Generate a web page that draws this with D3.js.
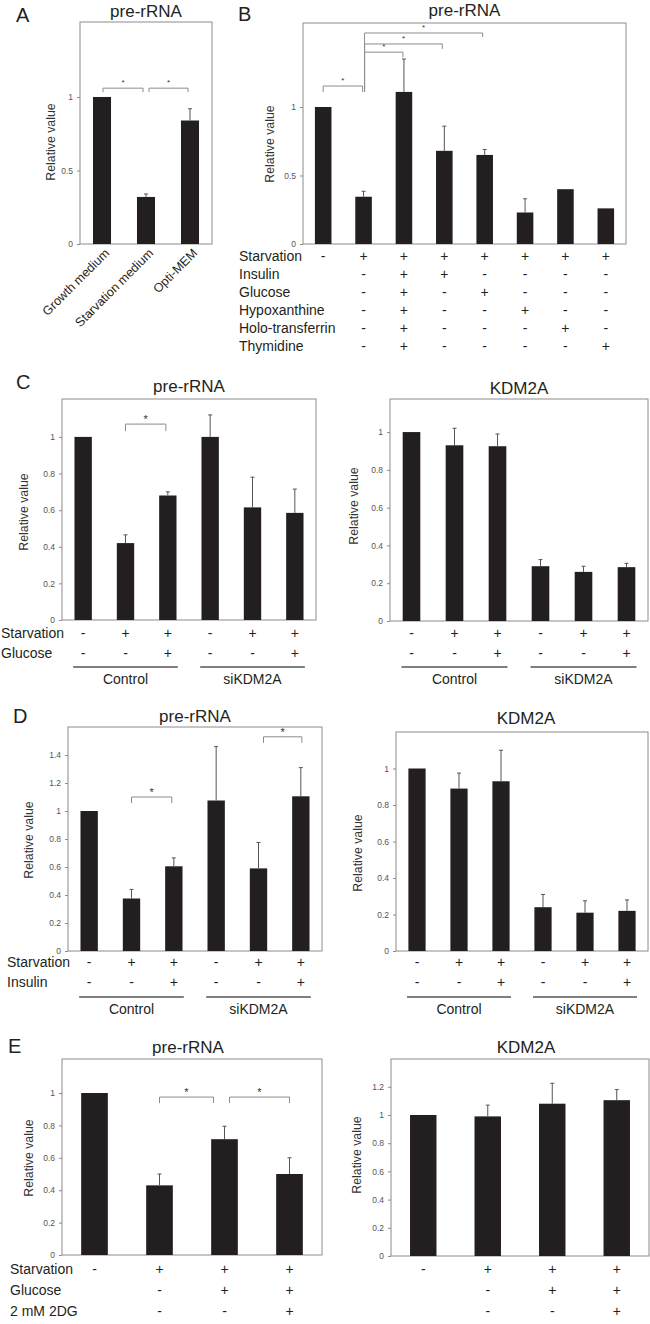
<!DOCTYPE html>
<html><head><meta charset="utf-8">
<script src="https://cdn.jsdelivr.net/npm/d3@7"></script>
<style>body{margin:0;background:#fff}svg{display:block}</style>
</head><body>
<script>
// ---------------- DATA ----------------
const aCategories = ["Growth medium", "Starvation medium", "Opti-MEM"];
const aValues = [1.0, 0.32, 0.84];
const aErrors = [0, 0.02, 0.08];
const aTicks = [0, 0.5, 1];
const aBrackets = [[0, 1, 1.06], [1, 2, 1.06]];

const bValues = [1.0, 0.345, 1.11, 0.68, 0.65, 0.23, 0.40, 0.26];
const bErrors = [0, 0.04, 0.24, 0.18, 0.04, 0.10, 0, 0];
const bTicks = [0, 0.5, 1];
const bRowLabels = ["Starvation", "Insulin", "Glucose", "Hypoxanthine", "Holo-transferrin", "Thymidine"];
const bStarvation = ["-", "+", "+", "+", "+", "+", "+", "+"];
const bInsulin = ["", "-", "+", "+", "-", "-", "-", "-"];
const bGlucose = ["", "-", "+", "-", "+", "-", "-", "-"];
const bHypoxanthine = ["", "-", "+", "-", "-", "+", "-", "-"];
const bHoloTransferrin = ["", "-", "+", "-", "-", "-", "+", "-"];
const bThymidine = ["", "-", "+", "-", "-", "-", "-", "+"];
const bBrackets = [[0, 1, 1.153], [1, 2, 1.40], [1, 3, 1.46], [1, 4, 1.54]];

const groupNames = ["Control", "siKDM2A"];

const cPreValues = [1.0, 0.42, 0.68, 1.0, 0.615, 0.585];
const cPreErrors = [0, 0.045, 0.02, 0.12, 0.165, 0.13];
const cKdmValues = [1.0, 0.93, 0.925, 0.29, 0.26, 0.285];
const cKdmErrors = [0, 0.09, 0.065, 0.035, 0.03, 0.02];
const cTicks = [0, 0.2, 0.4, 0.6, 0.8, 1];
const cRowLabels = ["Starvation", "Glucose"];
const cStarvation = ["-", "+", "+", "-", "+", "+"];
const cGlucose = ["-", "-", "+", "-", "-", "+"];
const cBrackets = [[1, 2, 1.07]];

const dPreValues = [1.0, 0.375, 0.605, 1.075, 0.59, 1.105];
const dPreErrors = [0, 0.065, 0.06, 0.385, 0.185, 0.205];
const dKdmValues = [1.0, 0.89, 0.93, 0.24, 0.21, 0.22];
const dKdmErrors = [0, 0.085, 0.17, 0.07, 0.065, 0.06];
const dPreTicks = [0, 0.2, 0.4, 0.6, 0.8, 1, 1.2, 1.4];
const dKdmTicks = [0, 0.2, 0.4, 0.6, 0.8, 1];
const dRowLabels = ["Starvation", "Insulin"];
const dStarvation = ["-", "+", "+", "-", "+", "+"];
const dInsulin = ["-", "-", "+", "-", "-", "+"];
const dBrackets = [[1, 2, 1.10], [4, 5, 1.53]];

const ePreValues = [1.0, 0.43, 0.715, 0.50];
const ePreErrors = [0, 0.07, 0.08, 0.10];
const eKdmValues = [1.0, 0.99, 1.08, 1.105];
const eKdmErrors = [0, 0.08, 0.145, 0.075];
const ePreTicks = [0, 0.2, 0.4, 0.6, 0.8, 1];
const eKdmTicks = [0, 0.2, 0.4, 0.6, 0.8, 1, 1.2];
const eRowLabels = ["Starvation", "Glucose", "2 mM 2DG"];
const eStarvation = ["-", "+", "+", "+"];
const eGlucose = ["", "-", "+", "+"];
const e2DG = ["", "-", "-", "+"];
const eBrackets = [[1, 2, 0.975], [2, 3, 0.975]];

// ---------------- DRAWING ----------------
const FONT = "'Liberation Sans', Arial, Helvetica, sans-serif";
const INK = "#231f20";
const svg = d3.select("body").append("svg").attr("width", 650).attr("height", 1324)
  .style("font-family", FONT);

function txt(x, y, s, size, opts = {}) {
  const t = svg.append("text").attr("x", x).attr("y", y).text(s)
    .attr("font-size", size).attr("fill", opts.fill || INK)
    .attr("text-anchor", opts.anchor || "start");
  if (opts.rotate !== undefined) t.attr("transform", `rotate(${opts.rotate},${x},${y})`);
  return t;
}

function panel(p) {
  const y = d3.scaleLinear().domain([0, p.yMax]).range([p.bottom, p.top]);
  const x = d3.scalePoint().domain(d3.range(p.values.length)).range([p.left, p.right]).padding(0.5);
  const bw = x.step() * 0.41;
  const g = svg.append("g");

  g.append("rect").attr("x", p.left).attr("y", p.top)
    .attr("width", p.right - p.left).attr("height", p.bottom - p.top)
    .attr("fill", "none").attr("stroke", "#8c8c8c").attr("stroke-width", 1);

  const ax = g.append("g").attr("transform", `translate(${p.left},0)`)
    .call(d3.axisLeft(y).tickValues(p.ticks).tickSize(3).tickPadding(4)
      .tickFormat(d => String(+d.toFixed(2))));
  ax.select(".domain").remove();
  ax.selectAll(".tick line").attr("stroke", "#8c8c8c");
  ax.selectAll(".tick text").attr("fill", "#555").attr("font-size", 8.5).attr("font-family", FONT);

  g.selectAll("rect.bar").data(p.values).join("rect").attr("class", "bar")
    .attr("x", (d, i) => x(i) - bw / 2).attr("y", d => y(d))
    .attr("width", bw).attr("height", d => y(0) - y(d)).attr("fill", INK);

  const eg = g.selectAll("g.err").data(p.values.map((v, i) => [v, p.errors[i], i]).filter(d => d[1] > 0))
    .join("g").attr("class", "err");
  eg.append("line").attr("x1", d => x(d[2])).attr("x2", d => x(d[2]))
    .attr("y1", d => y(d[0])).attr("y2", d => y(d[0] + d[1])).attr("stroke", "#555").attr("stroke-width", 1);
  eg.append("line").attr("x1", d => x(d[2]) - 2).attr("x2", d => x(d[2]) + 2)
    .attr("y1", d => y(d[0] + d[1])).attr("y2", d => y(d[0] + d[1])).attr("stroke", "#555").attr("stroke-width", 1);

  (p.brackets || []).forEach((b, k) => {
    const st = (p.bracketStyle && p.bracketStyle[k]) || {};
    const xl = x(b[0]) + (st.dl || 0), xr = x(b[1]) + (st.dr || 0);
    const yb = y(b[2]);
    const tick = st.tick || 6;
    const yl = st.leftTo !== undefined ? y(st.leftTo) : yb + tick;
    const yr = st.rightTo !== undefined ? y(st.rightTo) : yb + tick;
    g.append("path").attr("d", `M${xl},${yl}V${yb}H${xr}V${yr}`)
      .attr("fill", "none").attr("stroke", "#8c8c8c").attr("stroke-width", 1);
    txt((xl + xr) / 2, yb - 1 + (p.starDy || 0), "*", p.starSize || 11, { anchor: "middle", fill: "#333" });
  });

  // titles and labels
  txt((p.left + p.right) / 2 + (p.titleDx || 0), p.titleY, p.title, 17, { anchor: "middle" });
  if (p.letter) txt(p.letterX, p.letterY, p.letter, 20);
  txt(p.yLabelX, p.yLabelY, "Relative value", 12.3, { anchor: "middle", rotate: -90, fill: "#333" });

  // table rows
  if (p.rows) {
    p.rows.forEach((row, r) => {
      const cy = p.rowY0 + r * p.rowStep;
      if (p.rowLabels) txt(p.rowLabelX, cy + 5, p.rowLabels[r], 14);
      row.forEach((s, i) => { if (s) txt(x(i), cy + 5, s, 14, { anchor: "middle" }); });
    });
  }
  if (p.groups) {
    p.groups.forEach(gr => {
      g.append("line").attr("x1", x(gr.from) - 10).attr("x2", x(gr.to) + (gr.ext || 10))
        .attr("y1", p.groupLineY).attr("y2", p.groupLineY).attr("stroke", "#555").attr("stroke-width", 1.5);
      txt((x(gr.from) + x(gr.to)) / 2, p.groupLineY + 17, gr.name, 14, { anchor: "middle" });
    });
  }
  if (p.categories) {
    p.categories.forEach((c, i) => {
      txt(x(i) + 8, p.bottom + 10, c, 12.5, { anchor: "end", rotate: -45 });
    });
  }
  return { x, y };
}

const groups6 = [{ name: groupNames[0], from: 0, to: 2 }, { name: groupNames[1], from: 3, to: 5 }];

// Panel A
panel({ left: 80, right: 212, top: 22, bottom: 244, yMax: 1.51, ticks: aTicks,
  values: aValues, errors: aErrors, brackets: aBrackets,
  bracketStyle: [{ dl: 1, dr: -3, tick: 4 }, { dl: 3, dr: -2, tick: 4 }], starSize: 8, starDy: -2,
  title: "pre-rRNA", titleY: 17, letter: "A", letterX: 16, letterY: 22,
  yLabelX: 55, yLabelY: 142, categories: aCategories });

// Panel B
panel({ left: 303, right: 626, top: 23, bottom: 244, yMax: 1.613, ticks: bTicks,
  values: bValues, errors: bErrors, brackets: bBrackets,
  bracketStyle: [{ dl: 0, dr: -1, rightTo: 1.11, tick: 6 }, { dl: 1, dr: -1, leftTo: 1.11, tick: 5 },
    { dl: 1, dr: -2, leftTo: 1.11, tick: 5 }, { dl: 1, dr: -2, leftTo: 1.11, tick: 4 }],
  starSize: 8, starDy: -2,
  title: "pre-rRNA", titleY: 16, letter: "B", letterX: 238, letterY: 21,
  yLabelX: 274, yLabelY: 144,
  rows: [bStarvation, bInsulin, bGlucose, bHypoxanthine, bHoloTransferrin, bThymidine],
  rowLabels: bRowLabels, rowLabelX: 239, rowY0: 256, rowStep: 18 });

// Panel C
panel({ left: 62, right: 316, top: 399, bottom: 620, yMax: 1.207, ticks: cTicks,
  values: cPreValues, errors: cPreErrors, brackets: cBrackets,
  bracketStyle: [{ dl: 0, dr: -2, tick: 7 }],
  title: "pre-rRNA", titleY: 392, letter: "C", letterX: 16, letterY: 389,
  yLabelX: 28, yLabelY: 512,
  rows: [cStarvation, cGlucose], rowLabels: cRowLabels, rowLabelX: 1, rowY0: 633, rowStep: 20,
  groups: groups6, groupLineY: 667 });
panel({ left: 390, right: 648, top: 399, bottom: 621, yMax: 1.175, ticks: cTicks,
  values: cKdmValues, errors: cKdmErrors,
  title: "KDM2A", titleY: 394,
  yLabelX: 358, yLabelY: 506,
  rows: [cStarvation, cGlucose], rowY0: 633, rowStep: 20,
  groups: groups6, groupLineY: 667 });

// Panel D
panel({ left: 68, right: 322, top: 727, bottom: 951, yMax: 1.6, ticks: dPreTicks,
  values: dPreValues, errors: dPreErrors, brackets: dBrackets,
  bracketStyle: [{ dl: 0, dr: -2, tick: 6 }, { dl: 5, dr: 1, tick: 6 }],
  title: "pre-rRNA", titleY: 722, letter: "D", letterX: 13, letterY: 723,
  yLabelX: 33, yLabelY: 840,
  rows: [dStarvation, dInsulin], rowLabels: dRowLabels, rowLabelX: 7, rowY0: 962, rowStep: 20,
  groups: groups6, groupLineY: 997 });
panel({ left: 396, right: 648, top: 732, bottom: 951, yMax: 1.2, ticks: dKdmTicks,
  values: dKdmValues, errors: dKdmErrors,
  title: "KDM2A", titleY: 724, titleDx: 4,
  yLabelX: 362, yLabelY: 853,
  rows: [dStarvation, dInsulin], rowY0: 962, rowStep: 20,
  groups: groups6, groupLineY: 997 });

// Panel E
panel({ left: 62, right: 322, top: 1059, bottom: 1255, yMax: 1.21, ticks: ePreTicks,
  values: ePreValues, errors: ePreErrors, brackets: eBrackets,
  bracketStyle: [{ dl: 0, dr: -11, tick: 6 }, { dl: 5, dr: 0, tick: 6 }],
  title: "pre-rRNA", titleY: 1053, titleDx: -4, letter: "E", letterX: 8, letterY: 1053,
  yLabelX: 33, yLabelY: 1158,
  rows: [eStarvation, eGlucose, e2DG], rowLabels: eRowLabels, rowLabelX: 10, rowY0: 1269, rowStep: 21 });
panel({ left: 391, right: 649, top: 1059, bottom: 1256, yMax: 1.397, ticks: eKdmTicks,
  values: eKdmValues, errors: eKdmErrors,
  title: "KDM2A", titleY: 1053, titleDx: 6,
  yLabelX: 361, yLabelY: 1155,
  rows: [eStarvation, eGlucose, e2DG], rowY0: 1269, rowStep: 21 });
</script>
</body></html>
